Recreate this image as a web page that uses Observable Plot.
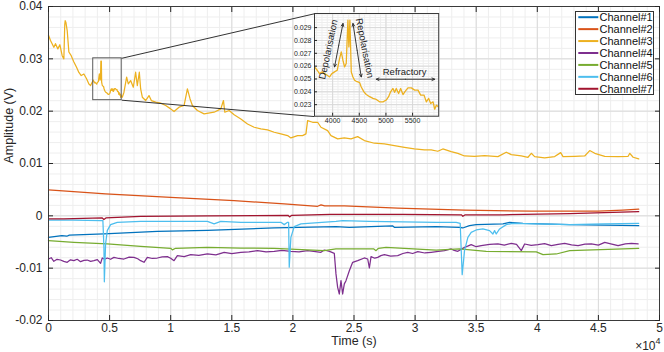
<!DOCTYPE html>
<html><head><meta charset="utf-8">
<script src="https://cdn.jsdelivr.net/npm/d3@7"></script>
<script src="https://cdn.jsdelivr.net/npm/@observablehq/plot@0.6"></script>
<style>
body{margin:0;background:#fff;}
#wrap{position:relative;width:664px;height:352px;overflow:hidden;background:#fff;}
#wrap svg{position:absolute;}
</style></head><body><div id="wrap"></div>
<script>
// ---------- data ----------
const channels = ["Channel#1","Channel#2","Channel#3","Channel#4","Channel#5","Channel#6","Channel#7"];
const colors = ["#0072BD","#D95319","#EDB120","#7E2F8E","#77AC30","#4DBEEE","#A2142F"];

const ch1X = [0,1093,1500,1700,4536,8908,13006,18470,23525,24620,28150,28300,31720,33630,33900,34450,35000,37190,37730,38820,42650,48300];
const ch1Y = [-0.00411,-0.0038,-0.0039,-0.0037,-0.00347,-0.00296,-0.0028,-0.00231,-0.00206,-0.00219,-0.0019,-0.00219,-0.00206,-0.00219,-0.00232,-0.00187,-0.00168,-0.00155,-0.00124,-0.00143,-0.0017,-0.00187];

const ch2X = [0,4672,10000,15190,19290,22020,22300,22600,24210,28580,34040,39510,44970,47000,48300];
const ch2Y = [0.00495,0.00418,0.00354,0.0029,0.00227,0.00183,0.0021,0.0019,0.0019,0.00147,0.0011,0.0009,0.0009,0.0011,0.00128];

const ch3X = [0,164,437,574,765,929,1120,1257,1330,1366,1420,1530,1667,1858,2077,2295,2486,2678,2896,3115,3306,3443,3634,
  3660,3711,3754,3798,3848,3899,3942,3986,4036,4086,4130,4162,4193,4224,4255,4287,4305,4324,4350,4381,4412,4443,4474,4506,4537,4587,4631,4694,4756,4819,4881,4944,5006,5050,5088,5132,5163,5194,5238,5276,5320,5364,5414,5477,5539,5602,5652,5715,5758,5802,5840,5884,5915,5946,5990,
  6038,6175,6394,6530,6721,6940,7131,7268,7432,7541,7678,7951,8224,8415,8771,9180,9590,10000,10273,10683,11093,11367,11585,11776,12186,12732,13552,14099,14317,14427,14782,15192,15738,16285,16831,17378,17924,18470,19017,19563,19837,20383,20793,21066,21203,21613,22023,22296,22843,23116,23662,24208,24755,25302,25848,26667,27487,28307,29127,29946,30766,31312,31859,32269,32952,33498,34045,34865,35684,36777,37460,37870,38690,39236,39510,39783,40603,41422,41914,42105,43061,43881,44291,44701,45520,46613,47433,47570,47843,48300];
const ch3Y = [0.0345,0.0335,0.0322,0.0329,0.0319,0.0327,0.0306,0.0300,0.0365,0.0373,0.0370,0.0354,0.0313,0.0306,0.0294,0.0284,0.0274,0.0268,0.0271,0.0262,0.0252,0.0249,0.0258,
  0.02594,0.02568,0.02542,0.02555,0.02542,0.02529,0.02516,0.02542,0.02555,0.02568,0.02659,0.02711,0.02646,0.02594,0.0262,0.02958,0.0275,0.02958,0.02555,0.02516,0.0249,0.02482,0.02477,0.02472,0.02438,0.0240,0.02379,0.02362,0.02349,0.02341,0.02322,0.02322,0.02336,0.02362,0.0240,0.02426,0.02396,0.02426,0.02387,0.02426,0.02379,0.02405,0.02431,0.02431,0.02413,0.02413,0.02374,0.02374,0.02322,0.02349,0.02309,0.02322,0.02265,0.02296,0.02283,
  0.02267,0.02362,0.02649,0.02521,0.02585,0.02457,0.02744,0.02489,0.02744,0.02425,0.02267,0.02203,0.02298,0.02203,0.02172,0.02153,0.02108,0.02044,0.01993,0.02076,0.02108,0.02426,0.02234,0.02108,0.02012,0.01948,0.0198,0.02044,0.02203,0.0198,0.02012,0.0193,0.01852,0.01756,0.01693,0.01661,0.01642,0.01597,0.01565,0.01533,0.01488,0.01533,0.01533,0.01565,0.0182,0.01788,0.01788,0.01693,0.01629,0.01533,0.0147,0.01488,0.0147,0.01514,0.01438,0.01387,0.01374,0.01342,0.0131,0.01278,0.0126,0.0126,0.01234,0.01278,0.01228,0.01195,0.01144,0.01138,0.01151,0.01132,0.01215,0.0117,0.01144,0.01119,0.01195,0.01132,0.01106,0.01132,0.01208,0.01132,0.01138,0.01144,0.01247,0.01195,0.01138,0.01132,0.01138,0.01195,0.01119,0.01087];

const ch4X = [0,220,437,700,984,1250,1530,1800,2077,2350,2623,2900,3169,3450,3716,4000,4263,4399,4600,4809,5080,5355,5750,6175,6600,6995,7300,7541,7814,8087,8500,8907,9300,9727,10000,10273,10546,11100,11639,12300,13006,13700,14372,15000,15738,16400,17104,17800,18470,19100,19836,20500,21202,21700,22295,22568,23000,23388,
  23525,23662,23799,23935,24072,24208,24345,24618,24891,25302,25848,26121,26258,26394,
  26700,26941,27200,27487,28000,28580,29000,29400,29800,30220,30800,31312,31900,32405,32952,33200,33498,34045,34300,34591,35000,35411,36100,36777,37300,37870,38300,38690,38963,39500,40056,40600,41149,41700,42242,42800,43335,43900,44428,45000,45520,46100,46613,47200,47706,48253];
const ch4Y = [-0.00825,-0.0080,-0.00869,-0.0083,-0.00844,-0.0087,-0.00888,-0.0084,-0.00857,-0.0083,-0.00876,-0.0085,-0.00844,-0.0087,-0.00857,-0.00835,-0.00908,-0.00806,-0.0083,-0.00806,-0.0083,-0.00793,-0.00815,-0.00825,-0.0079,-0.00793,-0.0082,-0.00857,-0.00888,-0.00793,-0.00815,-0.00806,-0.00785,-0.0078,-0.0081,-0.00857,-0.00761,-0.0078,-0.00742,-0.00755,-0.00729,-0.00745,-0.00697,-0.0072,-0.00697,-0.0069,-0.00665,-0.0069,-0.00678,-0.0066,-0.00678,-0.0069,-0.00665,-0.0068,-0.00697,-0.00653,-0.0068,-0.00716,
  -0.0111,-0.01367,-0.01494,-0.01239,-0.01494,-0.0130,-0.01239,-0.01048,-0.00888,-0.00857,-0.00805,-0.00825,-0.00997,-0.0078,
  -0.0081,-0.00793,-0.0076,-0.00742,-0.0077,-0.00761,-0.0072,-0.00697,-0.0072,-0.00685,-0.0071,-0.00697,-0.0068,-0.00665,-0.00633,-0.0066,-0.00678,-0.00602,-0.0058,-0.00551,-0.0059,-0.0057,-0.00545,-0.00538,-0.0056,-0.00525,-0.00545,-0.00665,-0.00538,-0.00565,-0.00551,-0.0053,-0.0057,-0.00545,-0.00525,-0.00555,-0.0057,-0.0054,-0.00538,-0.0056,-0.00506,-0.0054,-0.0057,-0.00535,-0.00525,-0.00538];

const ch5X = [0,2077,4809,7541,10000,10136,10400,13006,15738,18470,22568,23525,26600,26804,27000,27624,31722,33634,35820,39920,40465,41558,42652,48300];
const ch5Y = [-0.00474,-0.00506,-0.00538,-0.00583,-0.0062,-0.0065,-0.0062,-0.00602,-0.00615,-0.00621,-0.00665,-0.00633,-0.0063,-0.00665,-0.0062,-0.00602,-0.00653,-0.00633,-0.0068,-0.0069,-0.00742,-0.00729,-0.00665,-0.00621];

const ch6X = [0,2000,4300,4450,4536,4570,4672,4809,5082,5628,7541,13006,13552,14099,15738,19017,19290,19563,19650,19700,19836,20110,20656,23525,24072,26258,31722,33361,33689,33853,34045,34318,34591,35001,35547,36094,36367,36504,36640,36914,37460,38007,39920,42652,45384,48300];
const ch6Y = [-0.0008,-0.0008,-0.0009,-0.00092,-0.0060,-0.0126,-0.00538,-0.00283,-0.00168,-0.00124,-0.00105,-0.00105,-0.00155,-0.00105,-0.00124,-0.00124,-0.00168,-0.00124,-0.00124,-0.0098,-0.00411,-0.00206,-0.00155,-0.00105,-0.00092,-0.00105,-0.00124,-0.00124,-0.00143,-0.01124,-0.00665,-0.00411,-0.00315,-0.0027,-0.0025,-0.00283,-0.00347,-0.00283,-0.00347,-0.0025,-0.00168,-0.00143,-0.00155,-0.00168,-0.00155,-0.00143];

const ch7X = [0,1257,4400,4536,4700,7541,13006,19600,19727,19900,23100,28990,33800,33910,34100,37190,42660,48300];
const ch7Y = [-0.0006,-0.0006,-0.0004,-0.0007,-0.0004,-0.0001,0.0,0.0001,-0.0002,0.0001,0.0003,0.0003,0.0002,-0.0001,0.0002,0.0002,0.0004,0.0008];

// axes & ticks
const xTicks = [0,5000,10000,15000,20000,25000,30000,35000,40000,45000,50000];
const xTickLabels = ["0","0.5","1","1.5","2","2.5","3","3.5","4","4.5","5"];
const yTicks = [-0.02,-0.01,0,0.01,0.02,0.03,0.04];
const yTickLabels = ["-0.02","-0.01","0","0.01","0.02","0.03","0.04"];

// zoom window (in data units) and inset placement (in main-axes data units)
const zoomX = [3660, 5990];
const zoomY = [0.0221, 0.0301];
const insetBoxX = [21746, 31910];
const insetBoxY = [0.01897, 0.0386];
const insetXTicks = [4000,4500,5000,5500];
const insetYTicks = [0.023,0.024,0.025,0.026,0.027,0.028,0.029];

// inset annotations
const arrowX1 = [4036, 4382, 4819];
const arrowY1 = [0.02594, 0.02932, 0.02498];
const arrowX2 = [4194, 4537, 5915];
const arrowY2 = [0.02932, 0.02516, 0.02498];
const noteText = ["Depolarisation","Repolarisation","Refractory"];
const noteX = [3920, 4600, 5351];
const noteY = [0.0273, 0.0274, 0.02558];
const noteRotate = [-78, 79, 0];

// ---------- build ----------
const font = "'Liberation Sans', Arial, Helvetica, sans-serif";
const seriesX = [ch1X,ch2X,ch3X,ch4X,ch5X,ch6X,ch7X];
const seriesY = [ch1Y,ch2Y,ch3Y,ch4Y,ch5Y,ch6Y,ch7Y];
const data = channels.flatMap((c,i) => seriesX[i].slice(0, Math.min(seriesX[i].length, seriesY[i].length)).map((x,j) => ({ch:c, x, y:seriesY[i][j]})));
const ch3Data = data.filter(d => d.ch === "Channel#3");

const xMinor = d3.range(0, 50001, 1000);
const yMinor = d3.range(-0.02, 0.0401, 0.002);

const wrap = document.getElementById("wrap");

const main = Plot.plot({
  width: 664, height: 352,
  marginLeft: 48, marginRight: 5, marginTop: 6, marginBottom: 32,
  x: {domain: [0, 50000]},
  y: {domain: [-0.02, 0.04]},
  color: {domain: channels, range: colors},
  style: {fontFamily: font, fontSize: "12px", color: "#262626", background: "transparent"},
  marks: [
    Plot.ruleX(xMinor, {stroke: "#eeeeee"}),
    Plot.ruleY(yMinor, {stroke: "#eeeeee"}),
    Plot.ruleX(xTicks, {stroke: "#dadada"}),
    Plot.ruleY(yTicks, {stroke: "#dadada"}),
    Plot.line(data, {x: "x", y: "y", z: "ch", stroke: "ch", strokeWidth: 1.25}),
    Plot.rect([{x1: zoomX[0], x2: zoomX[1], y1: zoomY[0], y2: zoomY[1]}], {x1: "x1", x2: "x2", y1: "y1", y2: "y2", fill: "none", stroke: "#5a5a5a", strokeWidth: 1}),
    Plot.link([
      {x1: zoomX[1], y1: zoomY[1], x2: insetBoxX[0], y2: insetBoxY[1]},
      {x1: zoomX[1], y1: zoomY[0], x2: insetBoxX[0], y2: insetBoxY[0]}
    ], {x1: "x1", y1: "y1", x2: "x2", y2: "y2", stroke: "#333", strokeWidth: 1}),
    Plot.frame({stroke: "#3a3a3a", strokeWidth: 1}),
    Plot.axisX(xTicks, {anchor: "bottom", tickSize: -5, tickPadding: 8, label: null, tickFormat: d => xTickLabels[xTicks.indexOf(d)]}),
    Plot.axisX(xTicks, {anchor: "top", tickSize: -5, label: null, tickFormat: () => ""}),
    Plot.axisY(yTicks, {anchor: "left", tickSize: -5, tickPadding: 11, label: null, tickFormat: d => yTickLabels[yTicks.indexOf(d)]}),
    Plot.axisY(yTicks, {anchor: "right", tickSize: -5, label: null, tickFormat: () => ""}),
    Plot.text(["Time (s)"], {text: d => d, frameAnchor: "bottom", dy: 24.5, fontSize: 12.5}),
    Plot.text(["Amplitude (V)"], {text: d => d, frameAnchor: "left", dx: -40, rotate: -90, fontSize: 12.5}),
    Plot.text(["×10"], {text: d => d, frameAnchor: "bottom-right", textAnchor: "end", dx: -4, dy: 29, fontSize: 12}),
    Plot.text(["4"], {text: d => d, frameAnchor: "bottom-right", textAnchor: "start", dx: -4, dy: 23, fontSize: 9})
  ]
});
main.style.left = "0px"; main.style.top = "0px";
wrap.appendChild(main);

// ---------- inset ----------
const xs = main.scale("x"), ys = main.scale("y");
const ixL = xs.apply(insetBoxX[0]), ixR = xs.apply(insetBoxX[1]);
const iyT = ys.apply(insetBoxY[1]), iyB = ys.apply(insetBoxY[0]);
const iML = 26, iMR = 1, iMT = 1, iMB = 14;

const arrows = [];
arrowX1.forEach((x1, i) => {
  const mx = (x1 + arrowX2[i]) / 2, my = (arrowY1[i] + arrowY2[i]) / 2;
  arrows.push({x1: mx, y1: my, x2: x1, y2: arrowY1[i]});
  arrows.push({x1: mx, y1: my, x2: arrowX2[i], y2: arrowY2[i]});
});
const notes = noteText.map((t, i) => ({t, x: noteX[i], y: noteY[i], r: noteRotate[i]}));

const inset = Plot.plot({
  width: ixR - ixL + iML + iMR, height: iyB - iyT + iMT + iMB,
  marginLeft: iML, marginRight: iMR, marginTop: iMT, marginBottom: iMB,
  x: {domain: zoomX}, y: {domain: zoomY},
  style: {fontFamily: font, fontSize: "7px", color: "#262626", background: "transparent", overflow: "visible"},
  marks: [
    Plot.frame({fill: "white"}),
    Plot.ruleX(d3.range(3700, 5991, 100), {stroke: "#eeeeee"}),
    Plot.ruleY(d3.range(0.0222, 0.0301, 0.0002), {stroke: "#eeeeee"}),
    Plot.ruleX(insetXTicks, {stroke: "#d8d8d8"}),
    Plot.ruleY(insetYTicks, {stroke: "#d8d8d8"}),
    Plot.line(ch3Data, {x: "x", y: "y", stroke: colors[2], strokeWidth: 1.3, clip: true}),
    Plot.arrow(arrows, {x1: "x1", y1: "y1", x2: "x2", y2: "y2", stroke: "#222", strokeWidth: 0.9, headLength: 5, headAngle: 50}),
    Plot.text(notes, {x: "x", y: "y", text: "t", rotate: d => d.r, fontSize: 9.5, fill: "#222"}),
    Plot.frame({stroke: "#3a3a3a", strokeWidth: 1}),
    Plot.axisX(insetXTicks, {anchor: "bottom", tickSize: -3, tickPadding: 5, label: null, tickFormat: d => String(d), fontSize: 7}),
    Plot.axisY(insetYTicks, {anchor: "left", tickSize: -3, tickPadding: 6, label: null, tickFormat: d => d.toFixed(3), fontSize: 7})
  ]
});
inset.style.left = (ixL - iML) + "px";
inset.style.top = (iyT - iMT) + "px";
wrap.appendChild(inset);

// ---------- legend ----------
const lg = d3.create("svg").attr("width", 80).attr("height", 85)
  .style("left", "575px").style("top", "10.5px").style("position", "absolute");
lg.append("rect").attr("x", 0.5).attr("y", 0.5).attr("width", 78).attr("height", 83)
  .attr("fill", "#fff").attr("stroke", "#333").attr("stroke-width", 1);
channels.forEach((c, i) => {
  const cy = 6.2 + 11.93 * i;
  lg.append("line").attr("x1", 3.3).attr("x2", 23.3).attr("y1", cy).attr("y2", cy)
    .attr("stroke", colors[i]).attr("stroke-width", 2);
  lg.append("text").attr("x", 24.5).attr("y", cy).attr("dy", "0.35em")
    .attr("font-family", font).attr("font-size", 11).attr("fill", "#111").text(c);
});
wrap.appendChild(lg.node());
</script>
</body></html>
